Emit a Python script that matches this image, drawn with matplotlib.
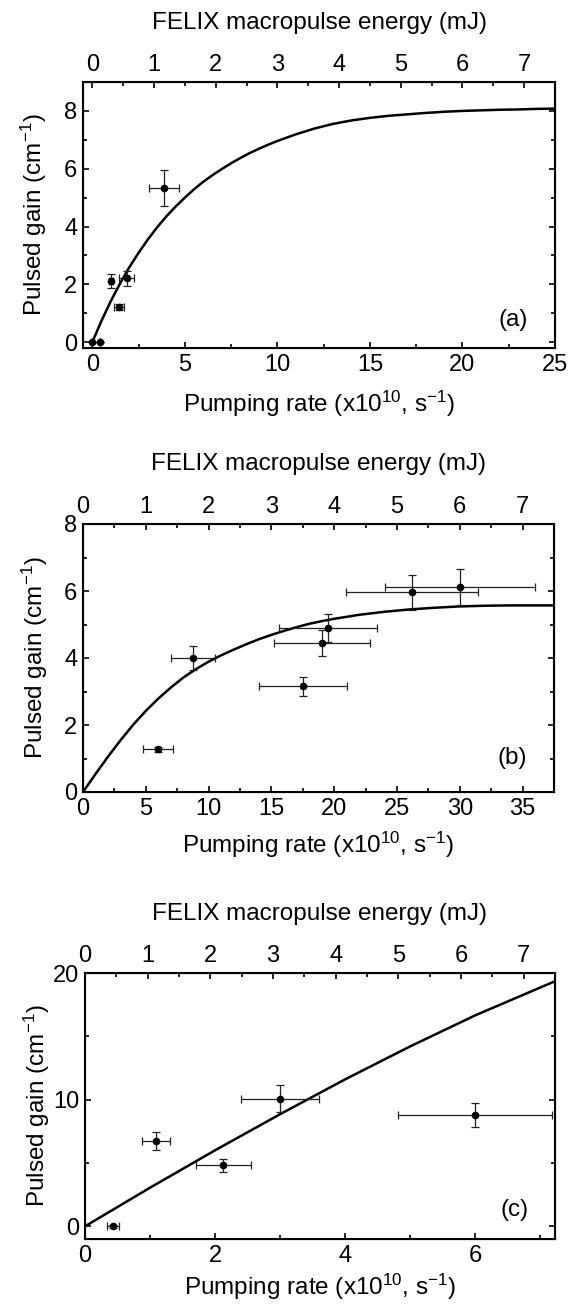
import numpy as np
import matplotlib
matplotlib.use("Agg")
import matplotlib.pyplot as plt
from matplotlib.ticker import MultipleLocator

plt.rcParams['font.family'] = ['Liberation Sans', 'DejaVu Sans']
plt.rcParams['mathtext.fontset'] = 'custom'
plt.rcParams['mathtext.rm'] = 'Liberation Sans'
plt.rcParams['mathtext.it'] = 'Liberation Sans:italic'

# panel (a) data
a_x = [0.0, 0.43, 1.02, 1.47, 1.87, 3.87]
a_y = [0.0, 0.0, 2.12, 1.22, 2.22, 5.32]
a_xerr = [0.0, 0.0, 0.1, 0.27, 0.4, 0.8]
a_yerr = [0.0, 0.0, 0.23, 0.11, 0.26, 0.62]
# fitted curve
a_fit_x = [0, 0.5, 1, 1.5, 2, 2.5, 3, 3.5, 4, 4.5, 5, 5.5, 6, 6.5, 7, 7.5, 8, 8.5, 9, 9.5,
           10, 11, 12, 13, 14, 15, 16, 17, 18, 19, 20, 21, 22, 23, 24, 25]
a_fit_y = [0, 0.74, 1.42, 2.03, 2.59, 3.09, 3.55, 3.97, 4.35, 4.69, 5.00, 5.29, 5.55, 5.78,
           5.99, 6.19, 6.37, 6.54, 6.69, 6.83, 6.96, 7.19, 7.39, 7.55, 7.67, 7.76, 7.83, 7.88,
           7.93, 7.97, 8.00, 8.02, 8.04, 8.05, 8.07, 8.08]

# panel (b) data
b_x = [6.0, 8.73, 17.5, 19.0, 19.5, 26.2, 30.0]
b_y = [1.27, 4.01, 3.16, 4.45, 4.90, 5.96, 6.11]
b_xerr = [1.19, 1.75, 3.5, 3.82, 3.9, 5.24, 5.99]
b_yerr = [0.08, 0.36, 0.28, 0.38, 0.42, 0.52, 0.54]
b_fit_x = [0, 1, 2, 3, 4, 5, 6, 7, 8, 9, 10, 11, 12, 13, 14, 15, 16, 17, 18, 19, 20,
           22, 24, 26, 28, 30, 32, 34, 37.5]
b_fit_y = [0, 0.54, 1.06, 1.55, 2.01, 2.42, 2.79, 3.12, 3.42, 3.67, 3.89, 4.08, 4.25, 4.41,
           4.56, 4.69, 4.81, 4.92, 5.02, 5.10, 5.17, 5.29, 5.38, 5.45, 5.50, 5.54, 5.56, 5.57, 5.57]

# panel (c) data
c_x = [0.43, 1.09, 2.13, 3.0, 6.0]
c_y = [0.0, 6.74, 4.82, 10.08, 8.79]
c_xerr = [0.087, 0.22, 0.43, 0.6, 1.19]
c_yerr = [0.1, 0.68, 0.51, 1.04, 0.92]
c_fit_x = [0.0, 1.0, 2.0, 3.0, 4.0, 5.0, 6.0, 7.23]
c_fit_y = [0.0, 3.05, 6.0, 8.85, 11.6, 14.2, 16.65, 19.35]

W, H = 568, 1305
fig = plt.figure(figsize=(W / 100, H / 100), dpi=100)

panels = [
    dict(box=(83, 555, 82, 348), data=(a_x, a_y, a_xerr, a_yerr, a_fit_x, a_fit_y),
         xlim=(-0.5, 25), ylim=(-0.2, 9), tlim=(-0.15, 7.5),
         xmaj=5, xmin=2.5, ymaj=2, ymin=1, tag='(a)', tagy=0.105, xlab=-0.155),
    dict(box=(83, 554, 524, 792), data=(b_x, b_y, b_xerr, b_yerr, b_fit_x, b_fit_y),
         xlim=(0, 37.5), ylim=(0, 8), tlim=(0, 7.5),
         xmaj=5, xmin=2.5, ymaj=2, ymin=1, tag='(b)', tagy=0.126, xlab=-0.14),
    dict(box=(85, 555, 973, 1239), data=(c_x, c_y, c_xerr, c_yerr, c_fit_x, c_fit_y),
         xlim=(0, 7.23), ylim=(-1, 20), tlim=(0, 7.5),
         xmaj=2, xmin=1, ymaj=10, ymin=5, tag='(c)', tagy=0.11, xlab=-0.122),
]

fs_tick = 17
fs_label = 17.5

for p in panels:
    l, r, t, b = p['box']
    ax = fig.add_axes([l / W, (H - b) / H, (r - l) / W, (b - t) / H])
    x, y, xe, ye, fx, fy = p['data']

    ax.plot(fx, fy, color='black', lw=1.8, zorder=2)
    ax.errorbar(x, y, xerr=xe, yerr=ye, fmt='o', color='black', ms=4.5,
                ecolor='#222222', elinewidth=0.9, capsize=3.2, capthick=0.9, zorder=3)

    ax.set_xlim(*p['xlim'])
    ax.set_ylim(*p['ylim'])
    ax.xaxis.set_major_locator(MultipleLocator(p['xmaj']))
    ax.xaxis.set_minor_locator(MultipleLocator(p['xmin']))
    ax.yaxis.set_major_locator(MultipleLocator(p['ymaj']))
    ax.yaxis.set_minor_locator(MultipleLocator(p['ymin']))
    ax.tick_params(which='both', direction='in', right=True, labelsize=fs_tick, width=1.2)
    ax.tick_params(which='major', length=4.5, pad=4)
    ax.tick_params(which='minor', length=3)
    for s in ax.spines.values():
        s.set_linewidth(1.5)

    ax.set_xlabel('Pumping rate (x10$^{10}$, s$^{-1}$)', fontsize=fs_label)
    ax.set_ylabel('Pulsed gain (cm$^{-1}$)', fontsize=fs_label)
    ax.yaxis.set_label_coords(-0.071, 0.5)
    ax.xaxis.set_label_coords(0.5, p['xlab'])
    ax.text(0.943, p['tagy'], p['tag'], transform=ax.transAxes, ha='right', va='center',
            fontsize=fs_label)

    top = ax.twiny()
    top.set_xlim(*p['tlim'])
    top.xaxis.set_major_locator(MultipleLocator(1))
    top.xaxis.set_minor_locator(MultipleLocator(0.5))
    top.tick_params(which='both', direction='in', labelsize=fs_tick, width=1.2)
    top.tick_params(which='major', length=4.5, pad=4)
    top.tick_params(which='minor', length=3)
    top.set_xlabel('FELIX macropulse energy (mJ)', fontsize=fs_label)
    top.xaxis.set_label_coords(0.5, 1.2)

fig.savefig('out.png', dpi=100)
